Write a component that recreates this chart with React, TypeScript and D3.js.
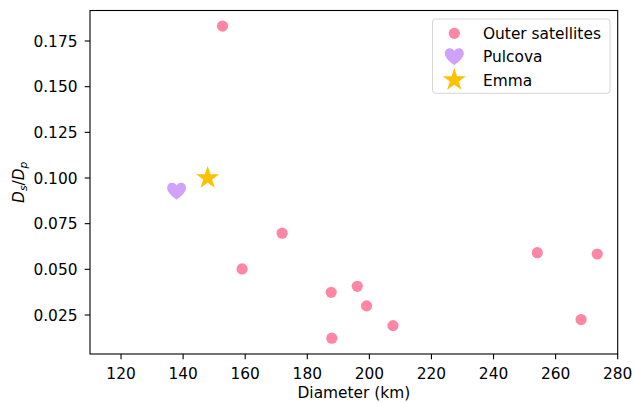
import React from "react";
import * as d3 from "d3";

const outerDiam = [152.7, 159.0, 171.9, 187.7, 187.9, 196.1, 199.1, 207.6, 254.1, 273.4, 268.2];
const outerRatio = [0.1832, 0.0502, 0.0698, 0.0374, 0.0123, 0.0407, 0.0300, 0.0192, 0.0591, 0.0584, 0.0225];
const pulcova = { name: "Pulcova", diam: 137.9, ratio: 0.0928 };
const emma = { name: "Emma", diam: 147.9, ratio: 0.1 };
const xTicks = [120, 140, 160, 180, 200, 220, 240, 260, 280];
const yTicks = [0.025, 0.05, 0.075, 0.1, 0.125, 0.15, 0.175];
const legendLabels = ["Outer satellites", "Pulcova", "Emma"];

const PINK = "#ff87a5";
const PURPLE = "#cfa3fa";
const GOLD = "#fcc200";
const FONT = "DejaVu Sans, sans-serif";
const FS = 15.4;

const W = 634, H = 403;
const x = d3.scaleLinear().domain([110, 280]).range([90, 617.7]);
const y = d3.scaleLinear().domain([0.00365, 0.1917]).range([354, 10.5]);

function starPath(R: number) {
  const r = R * 0.381966;
  const pts: [number, number][] = [];
  for (let i = 0; i < 10; i++) {
    const a = (Math.PI / 5) * i - Math.PI / 2;
    const rr = i % 2 === 0 ? R : r;
    pts.push([rr * Math.cos(a), rr * Math.sin(a)]);
  }
  return d3.line()(pts) + "Z";
}

function heartPath(w: number, h: number) {
  const sx = w / 2, sy = h / 2;
  const p = (a: number, b: number) => `${(a * sx).toFixed(2)},${(b * sy).toFixed(2)}`;
  return `M${p(0, 1)} C${p(-0.25, 0.75)} ${p(-1, 0.2)} ${p(-1, -0.38)} C${p(-1, -0.8)} ${p(-0.72, -1)} ${p(-0.48, -1)} C${p(-0.22, -1)} ${p(-0.05, -0.82)} ${p(0, -0.66)} C${p(0.05, -0.82)} ${p(0.22, -1)} ${p(0.48, -1)} C${p(0.72, -1)} ${p(1, -0.8)} ${p(1, -0.38)} C${p(1, 0.2)} ${p(0.25, 0.75)} ${p(0, 1)} Z`;
}

export default function App() {
  const fmtY = d3.format(".3f");
  const star = starPath(12.2);
  const heart = heartPath(19, 17);
  const [x0, x1] = x.range();
  const [yb, yt] = y.range();
  const legX = 432.5, legY = 19, legW = 177.5, legH = 74.3;
  const rowY = [33.3, 56.7, 80];
  return (
    <svg width={W} height={H} style={{ position: "absolute", left: 0, top: 0, background: "#fff" }} fontFamily={FONT}>
      <rect x={0} y={0} width={W} height={H} fill="#fff" />
      {outerDiam.map((d, i) => (
        <circle key={i} cx={x(d)} cy={y(outerRatio[i])} r={5.6} fill={PINK} />
      ))}
      <path d={heart} transform={`translate(${x(pulcova.diam)},${y(pulcova.ratio)})`} fill={PURPLE} />
      <path d={star} transform={`translate(${x(emma.diam)},${y(emma.ratio)})`} fill={GOLD} />
      <rect x={x0} y={yt} width={x1 - x0} height={yb - yt} fill="none" stroke="#000" strokeWidth={1.1} />
      {xTicks.map((t) => (
        <g key={t} transform={`translate(${x(t)},${yb})`}>
          <line y1={0} y2={5.3} stroke="#000" strokeWidth={1.1} />
          <text y={24.5} textAnchor="middle" fontSize={FS} fill="#000">{t}</text>
        </g>
      ))}
      {yTicks.map((t) => (
        <g key={t} transform={`translate(${x0},${y(t)})`}>
          <line x1={0} x2={-5.3} stroke="#000" strokeWidth={1.1} />
          <text x={-12.5} y={5.5} textAnchor="end" fontSize={FS} fill="#000">{fmtY(t)}</text>
        </g>
      ))}
      <text x={(x0 + x1) / 2} y={398.3} textAnchor="middle" fontSize={FS} fill="#000">Diameter (km)</text>
      <text transform={`translate(23.5,${(yb + yt) / 2}) rotate(-90)`} textAnchor="middle" fontSize={FS} fill="#000">
        <tspan fontStyle="italic">D</tspan>
        <tspan fontStyle="italic" fontSize={FS * 0.7} dy={3}>s</tspan>
        <tspan dy={-3}>/</tspan>
        <tspan fontStyle="italic">D</tspan>
        <tspan fontStyle="italic" fontSize={FS * 0.7} dy={3}>p</tspan>
      </text>
      <rect x={legX} y={legY} width={legW} height={legH} rx={3} fill="#fff" fillOpacity={0.8} stroke="#d6d6d6" strokeWidth={1} />
      <circle cx={454.3} cy={rowY[0]} r={5.6} fill={PINK} />
      <path d={heart} transform={`translate(454.3,${rowY[1]})`} fill={PURPLE} />
      <path d={star} transform={`translate(454.3,${rowY[2]})`} fill={GOLD} />
      {legendLabels.map((l, i) => (
        <text key={l} x={483} y={rowY[i] + 5.5} fontSize={FS} fill="#000">{l}</text>
      ))}
    </svg>
  );
}
